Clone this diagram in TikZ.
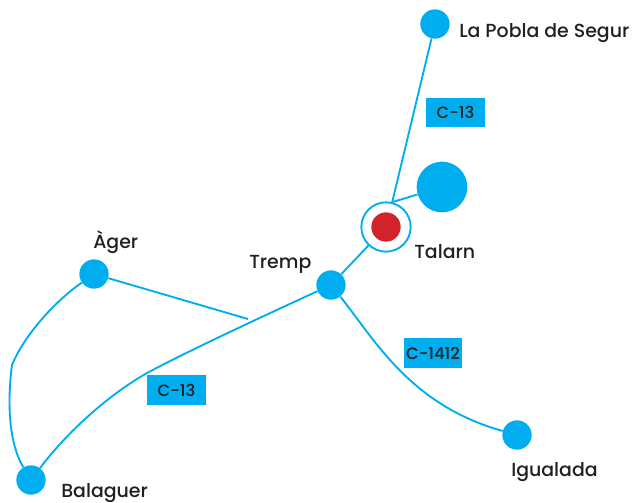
\documentclass[tikz,border=0pt]{standalone}
\usepackage{fontspec}
\setmainfont{Poppins}[UprightFont=* Medium]
\usepackage{xcolor}
\definecolor{roadblue}{HTML}{00AEEF}
\definecolor{markred}{HTML}{D2232A}
\definecolor{labelgray}{HTML}{231F20}
\tikzset{
	road/.style={roadblue, line width=1.4pt},
	town/.style={circle, fill=roadblue, inner sep=0pt, minimum size=22pt},
	townname/.style={text=labelgray, font=\fontsize{14.2}{16}\selectfont, inner sep=0pt},
	roadsign/.style={fill=roadblue, text=labelgray, font=\fontsize{12.3}{14}\selectfont, inner sep=0pt, minimum width=44pt, minimum height=22pt}
}

\begin{document}
\begin{tikzpicture}[x=0.75pt,y=-0.75pt]
	\useasboundingbox (0,0) rectangle (635,503);

	% Roads:
	\node [town] (pobla) at (435,24) {};
	\node [town] (tremp) at (331,285) {};
	\node [town] (ager) at (94,274) {};
	\node [town] (balaguer) at (31,480) {};
	\node [town] (igualada) at (517,435) {};
	\node [town, minimum size=38pt] (lake) at (442,187) {};
	\node [circle, draw=roadblue, fill=white, line width=1.4pt, inner sep=0pt, minimum size=37pt] (talarn) at (386,227) {};
	\node [circle, fill=markred, inner sep=0pt, minimum size=22pt] (centre) at (386,227) {};
	\coordinate (agerend) at (248,319);

	\draw [road] (pobla) -- (talarn.76);
	\draw [road] (lake) -- (talarn.76);
	\draw [road] (talarn) -- (tremp);
	\draw [road] (ager) -- (agerend);
	\draw [road] (ager) .. controls (50,305) and (22,340) .. (12,365) .. controls (8,395) and (7,440) .. (balaguer);
	\draw [road] (tremp) .. controls (270,313) and (190,350) .. (147,373) .. controls (105,397) and (65,435) .. (balaguer);
	\draw [road] (tremp) .. controls (375,340) and (410,405) .. (igualada);

	% Names:
	\node [townname, anchor=west] (poblaname) at (459,33) {La Pobla de Segur};
	\node [townname, anchor=west] (talarnname) at (414,252) {Talarn};
	\node [townname, anchor=west] (trempname) at (249,264) {Tremp};
	\node [townname, anchor=west] (agername) at (93,242) {Àger};
	\node [townname, anchor=west] (balaguername) at (61,493) {Balaguer};
	\node [townname, anchor=west] (igualadaname) at (511,472) {Igualada};

	% Road signs:
	\node [roadsign] (signa) at (455.5,112.5) {C-13};
	\node [roadsign] (signb) at (176.5,390) {C-13};
	\node [roadsign] (signc) at (433,353) {C-1412};
\end{tikzpicture}
\end{document}
